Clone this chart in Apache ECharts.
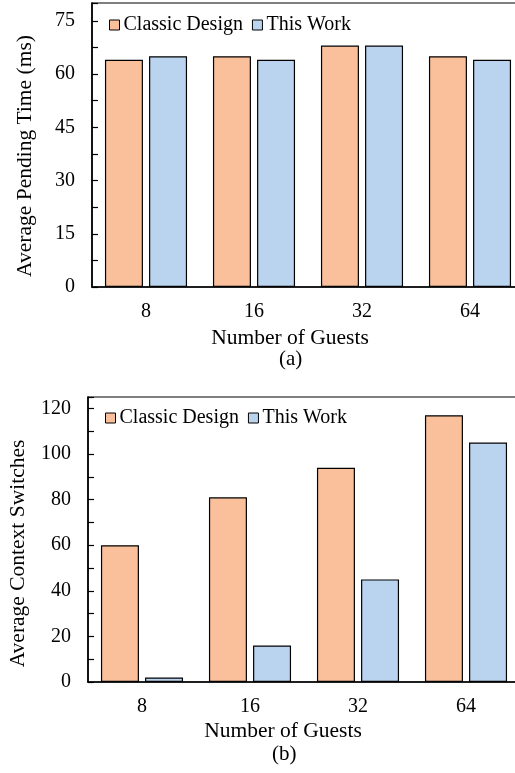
<!DOCTYPE html>
<html>
<head>
<meta charset="utf-8">
<script src="https://cdn.jsdelivr.net/npm/echarts@6/dist/echarts.min.js"></script>
<style>html,body{margin:0;padding:0;background:#fff}#c{width:515px;height:773px}</style>
</head>
<body>
<div id="c"></div>
<script>
const categories = ['8', '16', '32', '64'];
const seriesNames = ['Classic Design', 'This Work'];
const pendingClassic = [64, 65, 68, 65];
const pendingThisWork = [65, 64, 68, 64];
const switchesClassic = [60, 81, 94, 117];
const switchesThisWork = [2, 16, 45, 105];
const panelLabels = ['(a)', '(b)'];

const FONT = 'Liberation Serif';
const ORANGE = '#F9C09B';
const BLUE = '#BAD4F0';
const chart = echarts.init(document.getElementById('c'), null, {renderer: 'canvas'});

function xAxis(gridIndex, gap, shift) {
  return {
    type: 'category', gridIndex, data: categories,
    axisLine: {lineStyle: {color: '#000', width: 1.6}},
    axisTick: {alignWithLabel: true, inside: false, length: 6, lineStyle: {color: '#000', width: 1.4}},
    axisLabel: {color: '#000', fontFamily: FONT, fontSize: 20, margin: 15},
    name: 'Number of Guests', nameLocation: 'middle', nameGap: gap,
    nameTextStyle: {color: '#000', fontFamily: FONT, fontSize: 21.5, padding: [0, shift * 2, 0, 0]}
  };
}
function yAxis(gridIndex, max, interval, name, gap, shift) {
  return {
    type: 'value', gridIndex, min: 0, max, interval,
    axisLine: {show: true, lineStyle: {color: '#000', width: 1.6}},
    axisTick: {show: true, inside: true, length: 6, lineStyle: {color: '#000', width: 1.2}},
    minorTick: {show: true, splitNumber: 2, length: 6, lineStyle: {color: '#000', width: 1.2}},
    splitLine: {show: false},
    axisLabel: {color: '#000', fontFamily: FONT, fontSize: 20, margin: 17, showMaxLabel: false},
    name, nameLocation: 'middle', nameGap: gap, nameRotate: 90,
    nameTextStyle: {color: '#000', fontFamily: FONT, fontSize: 21.5, padding: [0, shift * 2, 0, 0]}
  };
}
function bar(name, data, color, idx) {
  return {
    type: 'bar', name, data, xAxisIndex: idx, yAxisIndex: idx,
    barWidth: 38, barGap: '16%',
    itemStyle: {color, borderColor: '#000', borderWidth: 1.2}
  };
}
function legend(left, top) {
  return {
    left, top, padding: 0, itemGap: 9, itemWidth: 10, itemHeight: 10,
    icon: 'rect', data: seriesNames,
    itemStyle: {borderColor: '#000', borderWidth: 1},
    textStyle: {color: '#000', fontFamily: FONT, fontSize: 20, padding: [0, 0, 0, -1]}
  };
}

chart.setOption({
  animation: false,
  grid: [
    {left: 92, top: 3, width: 432, height: 284, show: true, borderColor: '#000', borderWidth: 1.2, outerBoundsMode: 'none'},
    {left: 88, top: 397, width: 432, height: 285, show: true, borderColor: '#000', borderWidth: 1.2, outerBoundsMode: 'none'}
  ],
  legend: [legend(109, 15), legend(105, 408)],
  xAxis: [xAxis(0, 40, 18), xAxis(1, 38, 21)],
  yAxis: [yAxis(0, 80, 15, 'Average Pending Time (ms)', 56, 11), yAxis(1, 125, 20, 'Average Context Switches', 59, 14)],
  series: [
    bar(seriesNames[0], pendingClassic, ORANGE, 0),
    bar(seriesNames[1], pendingThisWork, BLUE, 0),
    bar(seriesNames[0], switchesClassic, ORANGE, 1),
    bar(seriesNames[1], switchesThisWork, BLUE, 1)
  ],
  graphic: [
    {type: 'text', left: 279, top: 349, style: {text: panelLabels[0], fill: '#000', font: '21px "Liberation Serif"'}},
    {type: 'text', left: 272, top: 744, style: {text: panelLabels[1], fill: '#000', font: '21px "Liberation Serif"'}}
  ]
});
</script>
</body>
</html>
